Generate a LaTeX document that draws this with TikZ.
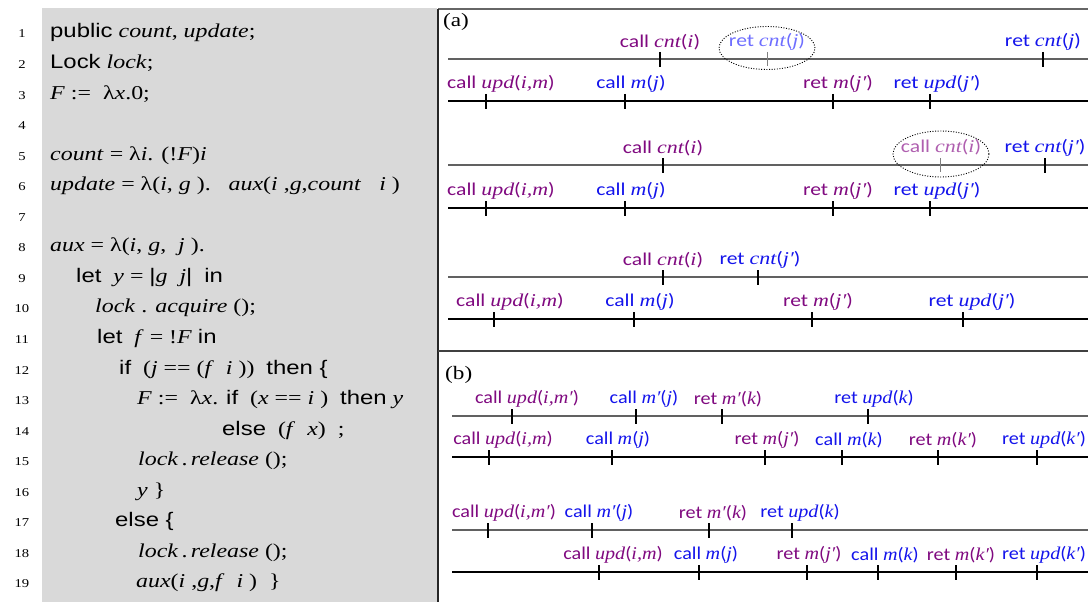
\documentclass[tikz,border=0pt]{standalone}
\usepackage{fontspec}
\setmainfont{Liberation Serif}[FakeStretch=1.22]
\newfontfamily\kwfont{Liberation Sans}[FakeStretch=1.22]
\newfontfamily\lblfont{Carlito}[FakeStretch=1.2]
\newfontfamily\lblbfont{Carlito}[FakeStretch=1.12]
\newfontfamily\idbfont{Liberation Serif}[FakeStretch=1.12]
\usetikzlibrary{shapes.geometric}
\definecolor{codebg}{RGB}{217,217,217}
\definecolor{purp}{RGB}{128,10,128}
\definecolor{blu}{RGB}{20,20,235}
\definecolor{fblu}{RGB}{110,110,255}
\definecolor{fpurp}{RGB}{175,95,175}
\newcommand\K[1]{{\kwfont #1}}
\newcommand\I[1]{\textit{#1}}
\newcommand\idf[1]{{\rmfamily\itshape #1}}
\newcommand\idb[1]{{\idbfont\itshape #1}}
\tikzset{
  codeln/.style={anchor=base west, inner sep=0pt, font=\fontsize{19.6}{19.6}\selectfont},
  lnum/.style={anchor=base, inner sep=0pt, font=\fontsize{12}{12}\selectfont},
  lab/.style={inner sep=0pt, font=\lblfont\fontsize{18}{18}\selectfont},
  labb/.style={inner sep=0pt, font=\lblbfont\fontsize{18}{18}\selectfont},
  tlg/.style={line width=1.6pt, draw=black!62},
  tlk/.style={line width=1.2pt, draw=black},
  tk/.style={line width=1.8pt, draw=black},
  ftk/.style={line width=1pt, draw=black!50},
  oval/.style={ellipse, draw=black, dash pattern=on 1pt off 1.6pt, line width=0.9pt, inner sep=0pt}
}
% name, tick x, line y, label x, colour, text   (panel a)
\newcommand\evt[6]{%
  \draw[tk] (#2,{#3-7}) -- (#2,{#3+8});
  \node[lab,text=#5] (#1) at (#4,{#3-17}) {#6};}
% same for panel b
\newcommand\evb[6]{%
  \draw[tk] (#2,{#3-7}) -- (#2,{#3+8});
  \node[labb,text=#5] (#1) at (#4,{#3-17}) {#6};}
\begin{document}
\begin{tikzpicture}[x=1pt,y=-1pt]
\useasboundingbox (0,0) rectangle (1088,602);
% code panel
\fill[codebg] (42,8) rectangle (437,602);
\draw[line width=1.5pt, black!60] (438,9) -- (1088,9);
\draw[line width=1.5pt, black!85] (438,9) -- (438,602);
\draw[line width=1.2pt, black!75] (438,351) -- (1088,351);
% line numbers
\foreach \n in {1,...,19}{
  \node[lnum] (n\n) at (22,{38+(\n-1)*30.55}) {\n};
}
\node[codeln] (c1) at (50,38) {\K{public} \I{count}, \I{update};};
\node[codeln] (c2) at (50,68.55) {\K{Lock} \I{lock};};
\node[codeln] (c3) at (50,99.1) {\I{F} :=\ \ λ\I{x}.0;};
\node[codeln] (c5) at (50,160.2) {\I{count} = λ\I{i}. (!\I{F})\I{i}};
\node[codeln] (c6) at (50,190.75) {\I{update} = λ(\I{i}, \I{g} ).\ \ \ \I{aux}(\I{i} ,\I{g},\I{count}\ \ \ \I{i} )};
\node[codeln] (c8) at (50,251.85) {\I{aux} = λ(\I{i}, \I{g},\ \ \I{j} ).};
\node[codeln] (c9) at (76,282.4) {\K{let}\ \ \I{y} = \K{|}\I{g}\ \ \I{j}\K{|}\ \ \K{in}};
\node[codeln] (c10) at (95,312.95) {\I{lock} . \I{acquire} ();};
\node[codeln] (c11) at (97,343.5) {\K{let}\ \ \I{f} = !\I{F} \K{in}};
\node[codeln] (c12) at (119,374.05) {\K{if}\ \ (\I{j} == (\I{f}\ \ \I{i} ))\ \ \K{then \{}};
\node[codeln] (c13) at (137,404.6) {\I{F} :=\ \ λ\I{x}. \K{if}\ \ (\I{x} == \I{i} )\ \ \K{then} \I{y}};
\node[codeln] (c14) at (222,435.15) {\K{else}\ \ (\I{f}\ \ \I{x})\ \ ;};
\node[codeln] (c15) at (138,465.7) {\I{lock}\,.\,\I{release} ();};
\node[codeln] (c16) at (137,496.25) {\I{y} \}};
\node[codeln] (c17) at (115,526.8) {\K{else \{}};
\node[codeln] (c18) at (138,557.35) {\I{lock}\,.\,\I{release} ();};
\node[codeln] (c19) at (136,587.9) {\I{aux}(\I{i} ,\I{g},\I{f}\ \ \I{i} )\ \ \}};
% panel labels
\node[anchor=west, inner sep=0pt, font=\fontsize{19}{19}\selectfont] (pa) at (443,22) {(a)};
\node[anchor=west, inner sep=0pt, font=\fontsize{19}{19}\selectfont] (pb) at (445,375) {(b)};
% ---- (a) row 1
\coordinate (l1s) at (448,59); \coordinate (l1e) at (1088,59);
\draw[tlg] (l1s) -- (l1e);
\evt{a1}{660}{59}{660}{purp}{call \idf{cnt}(\idf{i})}
\draw[ftk] (767,52) -- (767,66);
\node[lab,text=fblu] (a2) at (767,42) {ret \idf{cnt}(\idf{j})};
\node[oval, minimum width=96pt, minimum height=43pt] (o1) at (767,48) {};
\evt{a3}{1043}{59}{1043}{blu}{ret \idf{cnt}(\idf{j})}
% row 2
\coordinate (l2s) at (448,101); \coordinate (l2e) at (1088,101);
\draw[tlk] (l2s) -- (l2e);
\evt{b1}{486}{101}{501}{purp}{call \idf{upd}(\idf{i,m})}
\evt{b2}{625}{101}{631}{blu}{call \idf{m}(\idf{j})}
\evt{b3}{833}{101}{838}{purp}{ret \idf{m}(\idf{j′})}
\evt{b4}{930}{101}{937}{blu}{ret \idf{upd}(\idf{j′})}
% row 3
\coordinate (l3s) at (448,165); \coordinate (l3e) at (1088,165);
\draw[tlg] (l3s) -- (l3e);
\evt{c1}{663}{165}{663}{purp}{call \idf{cnt}(\idf{i})}
\draw[ftk] (940,158) -- (940,172);
\node[lab,text=fpurp] (c2) at (941,147) {call \idf{cnt}(\idf{i})};
\node[oval, minimum width=96pt, minimum height=46pt] (o2) at (941,154) {};
\evt{c3}{1045}{165}{1045}{blu}{ret \idf{cnt}(\idf{j′})}
% row 4
\coordinate (l4s) at (448,208); \coordinate (l4e) at (1088,208);
\draw[tlk] (l4s) -- (l4e);
\evt{d1}{486}{208}{501}{purp}{call \idf{upd}(\idf{i,m})}
\evt{d2}{625}{208}{631}{blu}{call \idf{m}(\idf{j})}
\evt{d3}{833}{208}{838}{purp}{ret \idf{m}(\idf{j′})}
\evt{d4}{930}{208}{937}{blu}{ret \idf{upd}(\idf{j′})}
% row 5
\coordinate (l5s) at (448,277); \coordinate (l5e) at (1088,277);
\draw[tlg] (l5s) -- (l5e);
\evt{e1}{663}{277}{663}{purp}{call \idf{cnt}(\idf{i})}
\evt{e2}{758}{277}{760}{blu}{ret \idf{cnt}(\idf{j′})}
% row 6
\coordinate (l6s) at (448,319); \coordinate (l6e) at (1088,319);
\draw[tlk] (l6s) -- (l6e);
\evt{f1}{494}{319}{510}{purp}{call \idf{upd}(\idf{i,m})}
\evt{f2}{634}{319}{640}{blu}{call \idf{m}(\idf{j})}
\evt{f3}{812}{319}{818}{purp}{ret \idf{m}(\idf{j′})}
\evt{f4}{963}{319}{972}{blu}{ret \idf{upd}(\idf{j′})}
% ---- (b) row 7
\coordinate (l7s) at (452,416); \coordinate (l7e) at (1088,416);
\draw[tlg] (l7s) -- (l7e);
\evb{g1}{512}{416}{527}{purp}{call \idb{upd}(\idb{i,m′})}
\evb{g2}{636}{416}{644}{blu}{call \idb{m′}(\idb{j})}
\evb{g3}{722}{416}{728}{purp}{ret \idb{m′}(\idb{k})}
\evb{g4}{868}{416}{874}{blu}{ret \idb{upd}(\idb{k})}
% row 8
\coordinate (l8s) at (452,457); \coordinate (l8e) at (1088,457);
\draw[tlk] (l8s) -- (l8e);
\evb{h1}{489}{457}{503}{purp}{call \idb{upd}(\idb{i,m})}
\evb{h2}{612}{457}{618}{blu}{call \idb{m}(\idb{j})}
\evb{h3}{765}{457}{767}{purp}{ret \idb{m}(\idb{j′})}
\evb{h4}{842}{457}{849}{blu}{call \idb{m}(\idb{k})}
\evb{h5}{938}{457}{943}{purp}{ret \idb{m}(\idb{k′})}
\evb{h6}{1037}{457}{1044}{blu}{ret \idb{upd}(\idb{k′})}
% row 9
\coordinate (l9s) at (452,530); \coordinate (l9e) at (1088,530);
\draw[tlg] (l9s) -- (l9e);
\evb{i1}{488}{530}{504}{purp}{call \idb{upd}(\idb{i,m′})}
\evb{i2}{592}{530}{599}{blu}{call \idb{m′}(\idb{j})}
\evb{i3}{709}{530}{713}{purp}{ret \idb{m′}(\idb{k})}
\evb{i4}{792}{530}{800}{blu}{ret \idb{upd}(\idb{k})}
% row 10
\coordinate (l10s) at (452,572); \coordinate (l10e) at (1088,572);
\draw[tlk] (l10s) -- (l10e);
\evb{j1}{599}{572}{613}{purp}{call \idb{upd}(\idb{i,m})}
\evb{j2}{699}{572}{706}{blu}{call \idb{m}(\idb{j})}
\evb{j3}{807}{572}{809}{purp}{ret \idb{m}(\idb{j′})}
\evb{j4}{878}{572}{885}{blu}{call \idb{m}(\idb{k})}
\evb{j5}{956}{572}{961}{purp}{ret \idb{m}(\idb{k′})}
\evb{j6}{1037}{572}{1044}{blu}{ret \idb{upd}(\idb{k′})}
\end{tikzpicture}
\end{document}
